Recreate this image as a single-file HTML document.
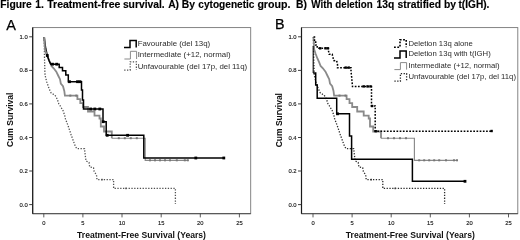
<!DOCTYPE html>
<html><head><meta charset="utf-8"><title>Figure 1</title>
<style>
html,body{margin:0;padding:0;background:#fff;}
body{width:520px;height:240px;overflow:hidden;position:relative;font-family:'Liberation Sans', sans-serif;}
</style></head>
<body>
<svg width="520" height="240" viewBox="0 0 520 240" style="position:absolute;left:0;top:0;font-family:'Liberation Sans', sans-serif;filter:blur(0.3px)">
<text y="7.8" font-size="10.3" font-weight="bold" fill="#000" stroke="#000" stroke-width="0.15"><tspan x="0.3">Figure</tspan><tspan x="35.35">1.</tspan><tspan x="47.2" textLength="73.2" lengthAdjust="spacingAndGlyphs">Treatment-free</tspan><tspan x="122.9">survival.</tspan><tspan x="168.2">A)</tspan><tspan x="181.8">By</tspan><tspan x="198.3" textLength="56.2" lengthAdjust="spacingAndGlyphs">cytogenetic</tspan><tspan x="257.4" textLength="33.0" lengthAdjust="spacingAndGlyphs">group.</tspan><tspan x="296.0">B)</tspan><tspan x="311.3" textLength="21.2" lengthAdjust="spacingAndGlyphs">With</tspan><tspan x="335.3" textLength="37.3" lengthAdjust="spacingAndGlyphs">deletion</tspan><tspan x="376.5">13q</tspan><tspan x="397.5">stratified</tspan><tspan x="444.0">by</tspan><tspan x="458.5" textLength="30.9" lengthAdjust="spacingAndGlyphs">t(IGH).</tspan></text>
<text x="6.3" y="29.9" font-size="14.5" fill="#000" stroke="#000" stroke-width="0.25">A</text>
<text x="275.0" y="29.4" font-size="14.3" fill="#000" stroke="#000" stroke-width="0.25">B</text>
<rect x="32.7" y="27.6" width="218.0" height="186.1" fill="#fff" stroke="#777" stroke-width="0.9"/><path d="M32.7,213.7 H250.7" fill="none" stroke="#444" stroke-width="0.9"/><path d="M32.7,27.6 V213.7" fill="none" stroke="#1a1a1a" stroke-width="1.2"/><line x1="29.200000000000003" y1="204.6" x2="32.7" y2="204.6" stroke="#2a2a2a" stroke-width="0.9"/><text x="27.8" y="206.6" font-size="5.9" text-anchor="end" fill="#111" stroke="#111" stroke-width="0.12">0.0</text><line x1="29.200000000000003" y1="171.0" x2="32.7" y2="171.0" stroke="#2a2a2a" stroke-width="0.9"/><text x="27.8" y="173.0" font-size="5.9" text-anchor="end" fill="#111" stroke="#111" stroke-width="0.12">0.2</text><line x1="29.200000000000003" y1="137.5" x2="32.7" y2="137.5" stroke="#2a2a2a" stroke-width="0.9"/><text x="27.8" y="139.5" font-size="5.9" text-anchor="end" fill="#111" stroke="#111" stroke-width="0.12">0.4</text><line x1="29.200000000000003" y1="103.9" x2="32.7" y2="103.9" stroke="#2a2a2a" stroke-width="0.9"/><text x="27.8" y="105.9" font-size="5.9" text-anchor="end" fill="#111" stroke="#111" stroke-width="0.12">0.6</text><line x1="29.200000000000003" y1="70.4" x2="32.7" y2="70.4" stroke="#2a2a2a" stroke-width="0.9"/><text x="27.8" y="72.4" font-size="5.9" text-anchor="end" fill="#111" stroke="#111" stroke-width="0.12">0.8</text><line x1="29.200000000000003" y1="36.8" x2="32.7" y2="36.8" stroke="#2a2a2a" stroke-width="0.9"/><text x="27.8" y="38.8" font-size="5.9" text-anchor="end" fill="#111" stroke="#111" stroke-width="0.12">1.0</text><line x1="43.8" y1="213.7" x2="43.8" y2="217.39999999999998" stroke="#333" stroke-width="0.8"/><text x="43.8" y="225.1" font-size="5.8" text-anchor="middle" fill="#111" stroke="#111" stroke-width="0.12">0</text><line x1="82.9" y1="213.7" x2="82.9" y2="217.39999999999998" stroke="#333" stroke-width="0.8"/><text x="82.9" y="225.1" font-size="5.8" text-anchor="middle" fill="#111" stroke="#111" stroke-width="0.12">5</text><line x1="122.0" y1="213.7" x2="122.0" y2="217.39999999999998" stroke="#333" stroke-width="0.8"/><text x="122.0" y="225.1" font-size="5.8" text-anchor="middle" fill="#111" stroke="#111" stroke-width="0.12">10</text><line x1="161.2" y1="213.7" x2="161.2" y2="217.39999999999998" stroke="#333" stroke-width="0.8"/><text x="161.2" y="225.1" font-size="5.8" text-anchor="middle" fill="#111" stroke="#111" stroke-width="0.12">15</text><line x1="200.3" y1="213.7" x2="200.3" y2="217.39999999999998" stroke="#333" stroke-width="0.8"/><text x="200.3" y="225.1" font-size="5.8" text-anchor="middle" fill="#111" stroke="#111" stroke-width="0.12">20</text><line x1="239.4" y1="213.7" x2="239.4" y2="217.39999999999998" stroke="#333" stroke-width="0.8"/><text x="239.4" y="225.1" font-size="5.8" text-anchor="middle" fill="#111" stroke="#111" stroke-width="0.12">25</text><path d="M44.2,37.0 L44.5,58.0 L45.0,75.0 L46.7,81.7 L47.5,84.0 L49.0,88.5 L51.2,93.0 L55.0,95.2 L57.2,99.0 L58.7,103.5 L61.0,107.2 L63.2,111.0 L64.7,115.5 L65.5,119.0 L68.0,125.5 L71.0,134.5 L73.2,140.5 L75.5,146.7 L77.0,148.7 L84.5,148.7 L85.2,155.0 L86.0,161.0 L89.0,162.5 L89.7,167.0 L93.5,167.7 L94.2,171.5 L96.5,175.0 L97.0,179.6 L113.6,179.6 L113.6,188.4 L175.4,188.4 L175.4,204.0" fill="none" stroke="#505050" stroke-width="1.3" stroke-dasharray="1.3,1.5"/><rect x="101.2" y="178.8" width="1.6" height="1.6" fill="#5a5a5a"/><rect x="125.2" y="187.6" width="1.6" height="1.6" fill="#5a5a5a"/><path d="M44.2,37.0 L44.6,42.0 L45.0,49.5 L46.5,54.0 L48.2,58.5 L49.9,62.2 L51.4,66.0 L53.7,68.3 L55.0,70.0 L56.3,71.7 L58.4,76.0 L60.0,79.2 L60.8,83.5 L63.0,86.2 L64.3,91.0 L64.9,95.6 L64.9,95.6 L77.4,95.6 L77.4,99.2 L80.3,99.2 L80.3,103.2 L83.0,103.2 L83.0,107.0 L88.0,107.0 L88.0,111.5 L94.5,111.5 L94.5,115.7 L99.5,115.7 L99.5,118.5 L100.8,118.5 L100.8,126.5 L104.0,126.5 L104.0,131.5 L111.8,131.5 L111.8,138.2" fill="none" stroke="#8a8a8a" stroke-width="1.8"/><path d="M111.8,138.2 L145.2,138.2 L145.2,160.3 L188.5,160.3" fill="none" stroke="#8a8a8a" stroke-width="1.15"/><rect x="69.3" y="94.6" width="2.0" height="2.0" fill="#777"/><rect x="75.3" y="94.6" width="2.0" height="2.0" fill="#777"/><rect x="117.8" y="137.2" width="2.0" height="2.0" fill="#777"/><rect x="123.8" y="137.2" width="2.0" height="2.0" fill="#777"/><rect x="129.8" y="137.2" width="2.0" height="2.0" fill="#777"/><rect x="135.8" y="137.2" width="2.0" height="2.0" fill="#777"/><rect x="149.0" y="159.3" width="2.0" height="2.0" fill="#777"/><rect x="154.0" y="159.3" width="2.0" height="2.0" fill="#777"/><rect x="159.0" y="159.3" width="2.0" height="2.0" fill="#777"/><rect x="164.0" y="159.3" width="2.0" height="2.0" fill="#777"/><rect x="169.0" y="159.3" width="2.0" height="2.0" fill="#777"/><rect x="175.8" y="159.3" width="2.0" height="2.0" fill="#777"/><rect x="183.8" y="159.3" width="2.0" height="2.0" fill="#777"/><rect x="186.8" y="159.3" width="2.0" height="2.0" fill="#777"/><path d="M44.2,37.0 L44.6,41.0 L45.2,45.0 L45.8,49.0 L46.5,52.0 L47.2,55.5 L48.2,58.0 L49.2,61.0 L50.8,64.2 L50.8,64.2 L59.2,64.2 L59.2,67.5 L62.5,67.5 L62.5,70.8 L65.8,70.8 L65.8,75.0 L68.3,75.0 L68.3,81.7 L80.7,81.7 L81.5,81.7 L81.5,90.0 L82.5,90.0 L82.5,100.0 L83.5,100.0 L83.5,109.0 L103.0,109.0 L103.0,121.7 L106.2,121.7 L106.2,135.3 L143.8,135.3 L143.8,158.0 L223.8,158.0" fill="none" stroke="#000" stroke-width="1.5"/><rect x="45.9" y="54.1" width="2.8" height="2.8" fill="#000"/><rect x="51.1" y="62.8" width="2.8" height="2.8" fill="#000"/><rect x="55.3" y="62.8" width="2.8" height="2.8" fill="#000"/><rect x="68.1" y="80.3" width="2.8" height="2.8" fill="#000"/><rect x="76.1" y="80.3" width="2.8" height="2.8" fill="#000"/><rect x="78.6" y="80.3" width="2.8" height="2.8" fill="#000"/><rect x="89.3" y="107.6" width="2.8" height="2.8" fill="#000"/><rect x="93.4" y="107.6" width="2.8" height="2.8" fill="#000"/><rect x="98.4" y="107.6" width="2.8" height="2.8" fill="#000"/><rect x="101.8" y="120.3" width="2.8" height="2.8" fill="#000"/><rect x="105.8" y="133.9" width="2.8" height="2.8" fill="#000"/><rect x="126.2" y="133.9" width="2.8" height="2.8" fill="#000"/><rect x="194.4" y="156.6" width="2.8" height="2.8" fill="#000"/><rect x="222.4" y="156.6" width="2.8" height="2.8" fill="#000"/><path d="M44.2,37.0 L44.6,42.0 L45.0,49.5 L46.5,54.0" fill="none" stroke="#8a8a8a" stroke-width="1.7"/><path d="M124,47.4 H130 V40.4 H136.2 V47.4" fill="none" stroke="#000" stroke-width="1.5"/><path d="M124.4,59.0 H130.4 V51.3 H136.6 V59.0" fill="none" stroke="#8a8a8a" stroke-width="1.0"/><path d="M124.2,70.0 H130.2 V61.8 H136.4 V70.0" fill="none" stroke="#505050" stroke-width="1.25" stroke-dasharray="1.3,1.5"/><text x="137.7" y="45.8" font-size="7.87" fill="#2a2a2a">Favourable (del 13q)</text><text x="137.7" y="57.4" font-size="7.87" fill="#2a2a2a">Intermediate (+12, normal)</text><text x="137.7" y="68.5" font-size="7.87" fill="#2a2a2a">Unfavourable (del 17p, del 11q)</text>
<rect x="301.5" y="27.6" width="216.29999999999995" height="186.1" fill="#fff" stroke="#777" stroke-width="0.9"/><path d="M301.5,213.7 H517.8" fill="none" stroke="#444" stroke-width="0.9"/><path d="M301.5,27.6 V213.7" fill="none" stroke="#1a1a1a" stroke-width="1.2"/><line x1="298.0" y1="204.6" x2="301.5" y2="204.6" stroke="#2a2a2a" stroke-width="0.9"/><text x="296.6" y="206.6" font-size="5.9" text-anchor="end" fill="#111" stroke="#111" stroke-width="0.12">0.0</text><line x1="298.0" y1="171.0" x2="301.5" y2="171.0" stroke="#2a2a2a" stroke-width="0.9"/><text x="296.6" y="173.0" font-size="5.9" text-anchor="end" fill="#111" stroke="#111" stroke-width="0.12">0.2</text><line x1="298.0" y1="137.5" x2="301.5" y2="137.5" stroke="#2a2a2a" stroke-width="0.9"/><text x="296.6" y="139.5" font-size="5.9" text-anchor="end" fill="#111" stroke="#111" stroke-width="0.12">0.4</text><line x1="298.0" y1="103.9" x2="301.5" y2="103.9" stroke="#2a2a2a" stroke-width="0.9"/><text x="296.6" y="105.9" font-size="5.9" text-anchor="end" fill="#111" stroke="#111" stroke-width="0.12">0.6</text><line x1="298.0" y1="70.4" x2="301.5" y2="70.4" stroke="#2a2a2a" stroke-width="0.9"/><text x="296.6" y="72.4" font-size="5.9" text-anchor="end" fill="#111" stroke="#111" stroke-width="0.12">0.8</text><line x1="298.0" y1="36.8" x2="301.5" y2="36.8" stroke="#2a2a2a" stroke-width="0.9"/><text x="296.6" y="38.8" font-size="5.9" text-anchor="end" fill="#111" stroke="#111" stroke-width="0.12">1.0</text><line x1="313.0" y1="213.7" x2="313.0" y2="217.39999999999998" stroke="#333" stroke-width="0.8"/><text x="313.0" y="225.1" font-size="5.8" text-anchor="middle" fill="#111" stroke="#111" stroke-width="0.12">0</text><line x1="352.1" y1="213.7" x2="352.1" y2="217.39999999999998" stroke="#333" stroke-width="0.8"/><text x="352.1" y="225.1" font-size="5.8" text-anchor="middle" fill="#111" stroke="#111" stroke-width="0.12">5</text><line x1="391.2" y1="213.7" x2="391.2" y2="217.39999999999998" stroke="#333" stroke-width="0.8"/><text x="391.2" y="225.1" font-size="5.8" text-anchor="middle" fill="#111" stroke="#111" stroke-width="0.12">10</text><line x1="430.3" y1="213.7" x2="430.3" y2="217.39999999999998" stroke="#333" stroke-width="0.8"/><text x="430.3" y="225.1" font-size="5.8" text-anchor="middle" fill="#111" stroke="#111" stroke-width="0.12">15</text><line x1="469.4" y1="213.7" x2="469.4" y2="217.39999999999998" stroke="#333" stroke-width="0.8"/><text x="469.4" y="225.1" font-size="5.8" text-anchor="middle" fill="#111" stroke="#111" stroke-width="0.12">20</text><line x1="508.5" y1="213.7" x2="508.5" y2="217.39999999999998" stroke="#333" stroke-width="0.8"/><text x="508.5" y="225.1" font-size="5.8" text-anchor="middle" fill="#111" stroke="#111" stroke-width="0.12">25</text><path d="M313.4,37.0 L313.7,58.0 L314.2,75.0 L315.9,81.7 L316.7,84.0 L318.2,88.5 L320.4,93.0 L324.2,95.2 L326.4,99.0 L327.9,103.5 L330.2,107.2 L332.4,111.0 L333.9,115.5 L334.7,119.0 L337.2,125.5 L340.2,134.5 L342.4,140.5 L344.7,146.7 L346.2,148.7 L353.7,148.7 L354.4,155.0 L355.2,161.0 L358.2,162.5 L358.9,167.0 L362.7,167.7 L363.4,171.5 L365.7,175.0 L366.2,179.6 L382.8,179.6 L382.8,188.4 L444.6,188.4 L444.6,204.0" fill="none" stroke="#2a2a2a" stroke-width="1.3" stroke-dasharray="1.3,1.5"/><rect x="370.4" y="178.8" width="1.6" height="1.6" fill="#3a3a3a"/><rect x="394.4" y="187.6" width="1.6" height="1.6" fill="#3a3a3a"/><path d="M313.4,37.0 L313.8,42.0 L314.2,49.5 L315.7,54.0 L317.4,58.5 L319.1,62.2 L320.6,66.0 L322.9,68.3 L324.2,70.0 L325.5,71.7 L327.6,76.0 L329.2,79.2 L330.0,83.5 L332.2,86.2 L333.5,91.0 L334.1,95.6 L334.1,95.6 L346.6,95.6 L346.6,99.2 L349.5,99.2 L349.5,103.2 L352.2,103.2 L352.2,107.0 L357.2,107.0 L357.2,111.5 L363.7,111.5 L363.7,115.7 L368.7,115.7 L368.7,118.5 L370.0,118.5 L370.0,126.5 L373.2,126.5 L373.2,131.5 L381.0,131.5 L381.0,138.2" fill="none" stroke="#8a8a8a" stroke-width="1.8"/><path d="M381.0,138.2 L414.4,138.2 L414.4,160.3 L457.7,160.3" fill="none" stroke="#8a8a8a" stroke-width="1.15"/><rect x="338.5" y="94.6" width="2.0" height="2.0" fill="#777"/><rect x="344.5" y="94.6" width="2.0" height="2.0" fill="#777"/><rect x="387.0" y="137.2" width="2.0" height="2.0" fill="#777"/><rect x="393.0" y="137.2" width="2.0" height="2.0" fill="#777"/><rect x="399.0" y="137.2" width="2.0" height="2.0" fill="#777"/><rect x="405.0" y="137.2" width="2.0" height="2.0" fill="#777"/><rect x="418.2" y="159.3" width="2.0" height="2.0" fill="#777"/><rect x="423.2" y="159.3" width="2.0" height="2.0" fill="#777"/><rect x="428.2" y="159.3" width="2.0" height="2.0" fill="#777"/><rect x="433.2" y="159.3" width="2.0" height="2.0" fill="#777"/><rect x="438.2" y="159.3" width="2.0" height="2.0" fill="#777"/><rect x="445.0" y="159.3" width="2.0" height="2.0" fill="#777"/><rect x="453.0" y="159.3" width="2.0" height="2.0" fill="#777"/><rect x="456.0" y="159.3" width="2.0" height="2.0" fill="#777"/><path d="M313.2,46.0 L313.2,73.0" fill="none" stroke="#111" stroke-width="1.15"/><path d="M313.2,73.0 L315.7,73.0 L315.7,85.0 L317.2,85.0 L317.2,98.2 L336.7,98.2 L336.7,113.8 L349.5,113.8 L349.5,136.0 L351.6,136.0 L351.6,159.2 L412.4,159.2 L412.4,181.3 L465.6,181.3" fill="none" stroke="#000" stroke-width="1.5"/><rect x="336.1" y="112.4" width="2.8" height="2.8" fill="#000"/><rect x="463.6" y="179.9" width="2.8" height="2.8" fill="#000"/><path d="M313.5,37.0 L314.5,37.0 L314.5,42.0 L315.7,42.0 L315.7,45.0 L317.2,45.0 L317.2,48.3 L328.5,48.3 L328.5,51.0 L329.2,54.3 L332.2,54.3 L333.0,57.7 L333.7,60.5 L336.7,60.8 L337.5,64.5 L337.5,67.7 L351.0,67.7 L351.0,71.5 L351.7,77.5 L352.5,86.5 L371.5,86.5 L371.5,106.0 L375.2,106.0 L375.2,131.2 L492.0,131.2" fill="none" stroke="#000" stroke-width="1.5" stroke-dasharray="1.7,1.5"/><rect x="319.0" y="47.1" width="2.4" height="2.4" fill="#000"/><rect x="324.3" y="47.1" width="2.4" height="2.4" fill="#000"/><rect x="326.5" y="47.1" width="2.4" height="2.4" fill="#000"/><rect x="344.5" y="66.4" width="2.4" height="2.4" fill="#000"/><rect x="347.5" y="66.4" width="2.4" height="2.4" fill="#000"/><rect x="362.5" y="85.2" width="2.4" height="2.4" fill="#000"/><rect x="366.3" y="85.2" width="2.4" height="2.4" fill="#000"/><rect x="369.3" y="85.2" width="2.4" height="2.4" fill="#000"/><rect x="370.8" y="104.8" width="2.4" height="2.4" fill="#000"/><rect x="374.5" y="130.0" width="2.4" height="2.4" fill="#000"/><rect x="490.4" y="129.8" width="2.4" height="2.4" fill="#000"/><path d="M394,47.2 H400 V39.8 H406.2 V47.2" fill="none" stroke="#000" stroke-width="1.6" stroke-dasharray="1.8,1.5"/><path d="M394,58 H400 V50.9 H406.2 V58" fill="none" stroke="#000" stroke-width="1.5"/><path d="M394.4,69.6 H400.4 V62.6 H406.59999999999997 V69.6" fill="none" stroke="#8a8a8a" stroke-width="1.0"/><path d="M394.4,81.2 H400.4 V73.6 H406.59999999999997 V81.2" fill="none" stroke="#222" stroke-width="1.3" stroke-dasharray="1.3,1.5"/><text x="408.4" y="45.7" font-size="7.73" fill="#2a2a2a">Deletion 13q alone</text><text x="408.4" y="56.4" font-size="7.73" fill="#2a2a2a">Deletion 13q with t(IGH)</text><text x="408.4" y="68.0" font-size="7.73" fill="#2a2a2a">Intermediate (+12, normal)</text><text x="408.4" y="79.1" font-size="7.73" fill="#2a2a2a">Unfavourable (del 17p, del 11q)</text>
<text transform="translate(13.3,119.8) rotate(-90)" font-size="8.5" font-weight="bold" text-anchor="middle" fill="#111">Cum Survival</text>
<text transform="translate(282.4,120.2) rotate(-90)" font-size="8.5" font-weight="bold" text-anchor="middle" fill="#111">Cum Survival</text>
<text x="141.5" y="237.5" font-size="8.6" font-weight="bold" text-anchor="middle" fill="#111">Treatment-Free Survival (Years)</text>
<text x="410.3" y="237.5" font-size="8.6" font-weight="bold" text-anchor="middle" fill="#111">Treatment-Free Survival (Years)</text>
</svg>
</body></html>
